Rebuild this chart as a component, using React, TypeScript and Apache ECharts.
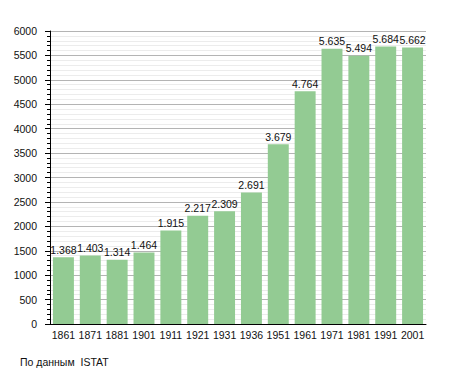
import React, { useEffect, useRef } from "react";
import * as echarts from "echarts";

const years = ["1861", "1871", "1881", "1901", "1911", "1921", "1931", "1936", "1951", "1961", "1971", "1981", "1991", "2001"];
const population = [1368, 1403, 1314, 1464, 1915, 2217, 2309, 2691, 3679, 4764, 5635, 5494, 5684, 5662];
const footnote = "По данным  ISTAT";

const fmt = (v: number) => {
  const s = String(v);
  return s.length > 3 ? s.slice(0, s.length - 3) + "." + s.slice(s.length - 3) : s;
};

export default function App() {
  const ref = useRef<HTMLDivElement>(null);
  useEffect(() => {
    if (!ref.current) return;
    const chart = echarts.init(ref.current, null, { renderer: "svg" });
    const font = "'Liberation Sans', Arial, sans-serif";
    const fs = 10.5;
    chart.setOption({
      animation: false,
      textStyle: { fontFamily: font },
      grid: { left: 50, top: 31, right: 29, bottom: 49, containLabel: false },
      xAxis: {
        type: "category",
        data: years,
        axisLine: { show: true, lineStyle: { color: "#000", width: 1 } },
        axisTick: { show: false },
        axisLabel: { color: "#111", fontSize: fs, fontFamily: font, margin: 5, interval: 0 },
        splitLine: { show: false },
      },
      yAxis: {
        type: "value",
        min: 0,
        max: 6000,
        interval: 500,
        axisLine: { show: true, lineStyle: { color: "#000", width: 1 } },
        axisTick: { show: true, length: 5, lineStyle: { color: "#000" } },
        minorTick: { show: true, splitNumber: 5, length: 3, lineStyle: { color: "#000" } },
        axisLabel: { color: "#111", fontSize: fs, fontFamily: font, margin: 13, formatter: (v: number) => String(v) },
        splitLine: { show: true, lineStyle: { color: "#b4b4b4", width: 1 } },
        minorSplitLine: { show: true, lineStyle: { color: "#ececec", width: 1 } },
      },
      series: [
        {
          type: "bar",
          data: population,
          barCategoryGap: "22%",
          itemStyle: { color: "#93cb93" },
          label: {
            show: true,
            position: "top",
            distance: 2,
            color: "#111",
            fontSize: fs,
            fontFamily: font,
            formatter: (p: any) => fmt(p.value),
          },
        },
      ],
      graphic: [
        {
          type: "text",
          left: 20,
          top: 356,
          style: { text: footnote, fill: "#111", font: `10.5px ${font}` },
        },
      ],
    });
    return () => chart.dispose();
  }, []);
  return <div ref={ref} style={{ width: 455, height: 373, position: "absolute", left: 0, top: 0 }} />;
}
